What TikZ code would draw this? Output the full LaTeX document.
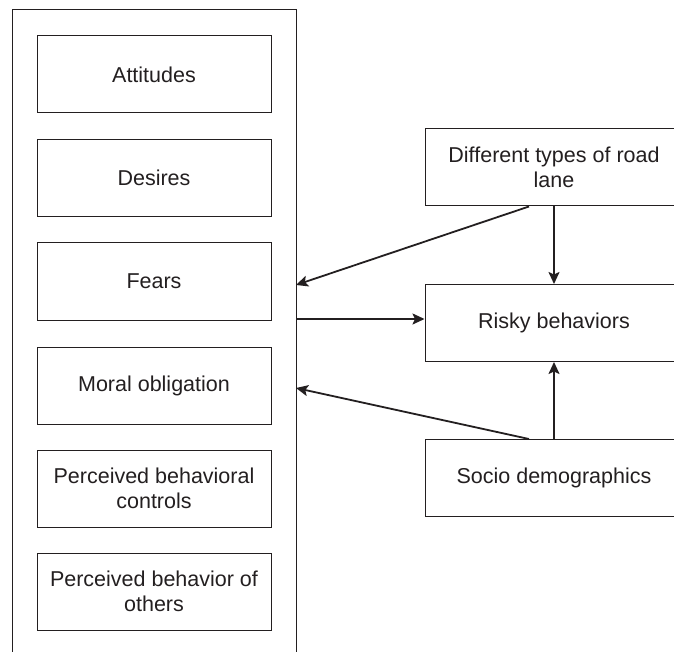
\documentclass[tikz,border=0pt]{standalone}
\usepackage{fontspec}
\setmainfont{Liberation Sans}
\usetikzlibrary{arrows.meta}
\definecolor{ink}{HTML}{231F20}
\tikzset{
  box/.style={draw=ink, line width=1pt, minimum width=234pt, minimum height=77pt,
    align=center, inner sep=0pt, text=ink, font=\fontsize{21.5}{25}\selectfont},
  sidebox/.style={box, minimum width=258pt},
  link/.style={draw=ink, line width=1.8pt, -{Stealth[length=12pt,width=11pt,inset=2.5pt]}}
}
\begin{document}
\begin{tikzpicture}[x=1pt,y=-1pt]
        \useasboundingbox (0,0) rectangle (674,652);
        \clip (0,0) rectangle (674,652);
        % frame round the factors
        \draw[ink, line width=1pt] (12,660) -- (12,10) -- (296,10) -- (296,660);
        \coordinate (fa) at (296,285);
        \coordinate (fb) at (296,319);
        \coordinate (fc) at (296,388);
        \node[box] (att) at (154,74.5) {Attitudes};
        \node[box] (des) at (154,178) {Desires};
        \node[box] (fea) at (154,281.5) {Fears};
        \node[box] (mor) at (154,385.5) {Moral obligation};
        \node[box] (pbc) at (154,488.5) {Perceived behavioral\\controls};
        \node[box] (pbo) at (154,591.5) {Perceived behavior of\\others};
        \node[sidebox] (lane) at (554,167.5) {Different types of road\\lane};
        \node[sidebox] (risky) at (554,323) {Risky behaviors};
        \node[sidebox] (socio) at (554,478) {Socio demographics};
        \draw[link] ([xshift=-25pt]lane.south) -- (fa);
        \draw[link] (lane) -- (risky);
        \draw[link] (fb) -- (fb -| risky.west);
        \draw[link] ([xshift=-25pt]socio.north) -- (fc);
        \draw[link] (socio) -- (risky);
    \end{tikzpicture}
\end{document}
